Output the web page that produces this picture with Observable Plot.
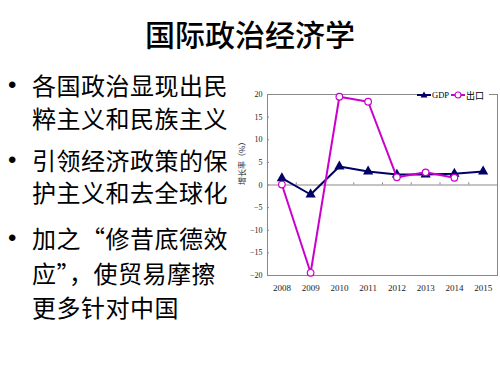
<!DOCTYPE html>
<html lang="zh-CN">
<head>
<meta charset="utf-8">
<script src="https://cdn.jsdelivr.net/npm/d3@7"></script>
<script src="https://cdn.jsdelivr.net/npm/@observablehq/plot@0.6"></script>
<style>
  html, body { margin: 0; padding: 0; background: #fff; }
  #page { position: relative; width: 500px; height: 375px; overflow: hidden; font-family: "Noto Sans CJK SC", sans-serif; color: #000; }
  #title { position: absolute; left: 0; width: 500px; top: 13px; text-align: center; font-size: 30px; line-height: 40px; font-weight: 500; }
  .line { position: absolute; left: 32px; font-size: 24px; line-height: 30px; letter-spacing: 0.5px; white-space: nowrap; font-feature-settings: "fwid"; }
  .bullet { position: absolute; left: 8px; font-family: "Liberation Sans", Arial, sans-serif; font-size: 24px; line-height: 30px; }
  #chart { position: absolute; left: 234px; top: 80px; }
  #legend { position: absolute; left: 417px; top: 89px; height: 12px; background: #fff; display: flex; align-items: center; font-family: "Liberation Serif", serif; font-size: 8.5px; padding-right: 3px; }
  #legend span { margin-right: 2px; margin-left: 1px; }
  #legend .cjk { font-family: "Noto Sans CJK SC", sans-serif; font-size: 9px; }
</style>
</head>
<body>
<div id="page">
  <div id="title"></div>
  <div id="text"></div>
  <div id="chart"></div>
  <div id="legend"></div>
</div>
<script>
const titleText = "国际政治经济学";
const bulletLines = [
  ["各国政治显现出民", "粹主义和民族主义"],
  ["引领经济政策的保", "护主义和去全球化"],
  ["加之“修昔底德效", "应”，使贸易摩擦", "更多针对中国"]
];
const years = [2008, 2009, 2010, 2011, 2012, 2013, 2014, 2015];
const gdpGrowth = [1.5, -2.1, 4.1, 3.0, 2.3, 2.3, 2.5, 3.0];
const exportGrowth = [0.1, -19.4, 19.5, 18.4, 1.7, 2.8, 1.6, null];
const yTicks = [-20, -15, -10, -5, 0, 5, 10, 15, 20];
const seriesNames = ["GDP", "出口"];
const yLabel = "增长率（%）";

const gdpColor = "#000066";
const expColor = "#CC00CC";

document.getElementById("title").textContent = titleText;

// bullet text
const lineTops = [[70, 103], [145, 177], [223, 258, 292]];
const textDiv = document.getElementById("text");
bulletLines.forEach((lines, i) => {
  const b = document.createElement("div");
  b.className = "bullet";
  b.style.top = lineTops[i][0] + "px";
  b.textContent = "•";
  textDiv.appendChild(b);
  lines.forEach((t, j) => {
    const d = document.createElement("div");
    d.className = "line";
    d.style.top = lineTops[i][j] + "px";
    d.textContent = t;
    textDiv.appendChild(d);
  });
});

const gdpData = years.map((y, i) => ({year: y, value: gdpGrowth[i]}));
const expData = years.map((y, i) => ({year: y, value: exportGrowth[i]})).filter(d => d.value != null);
const boundaries = years.slice(0, -1).map(y => y + 0.5);

const chart = Plot.plot({
  width: 266,
  height: 220,
  marginLeft: 33,
  marginRight: 3,
  marginTop: 14,
  marginBottom: 25,
  style: {fontFamily: "'Liberation Serif', serif", fontSize: "8px", color: "#222", background: "transparent"},
  x: {type: "linear", domain: [2007.5, 2015.5]},
  y: {domain: [-20, 20]},
  marks: [
    Plot.frame({stroke: "#888", strokeWidth: 1}),
    Plot.ruleY([0], {stroke: "#888", strokeWidth: 1}),
    Plot.ruleX(boundaries, {y1: 0, y2: 0.5, stroke: "#888"}),
    Plot.axisX({ticks: years, tickSize: 0, tickPadding: 9, tickFormat: d => String(d), fontSize: 9, label: null}),
    Plot.axisY({ticks: yTicks, tickSize: 0, tickPadding: 5, label: null}),
    Plot.ruleY(yTicks, {x1: 2007.5, x2: 2007.57, stroke: "#888"}),
    Plot.text([yLabel], {frameAnchor: "left", rotate: -90, dx: -25, fontFamily: "Noto Sans CJK SC", fontSize: 8}),
    Plot.line(gdpData, {x: "year", y: "value", stroke: gdpColor, strokeWidth: 2}),
    Plot.dot(gdpData, {x: "year", y: "value", symbol: "triangle", fill: gdpColor, r: 3.8}),
    Plot.line(expData, {x: "year", y: "value", stroke: expColor, strokeWidth: 2}),
    Plot.dot(expData, {x: "year", y: "value", fill: "#fff", stroke: expColor, strokeWidth: 1.2, r: 3.3})
  ]
});
document.getElementById("chart").appendChild(chart);

// legend
const legend = document.getElementById("legend");
const sym = (color, kind) => {
  const s = kind === "tri"
    ? `<svg width="14" height="10"><line x1="0" y1="5" x2="14" y2="5" stroke="${color}" stroke-width="2"/><path d="M7,1.5 L10.5,7.5 L3.5,7.5 Z" fill="${color}"/></svg>`
    : `<svg width="14" height="10"><line x1="0" y1="5" x2="14" y2="5" stroke="${color}" stroke-width="2"/><circle cx="7" cy="5" r="3" fill="#fff" stroke="${color}" stroke-width="1.2"/></svg>`;
  return s;
};
legend.innerHTML = sym(gdpColor, "tri") + `<span>${seriesNames[0]}</span>` + sym(expColor, "circ") + `<span class="cjk">${seriesNames[1]}</span>`;
</script>
</body>
</html>
